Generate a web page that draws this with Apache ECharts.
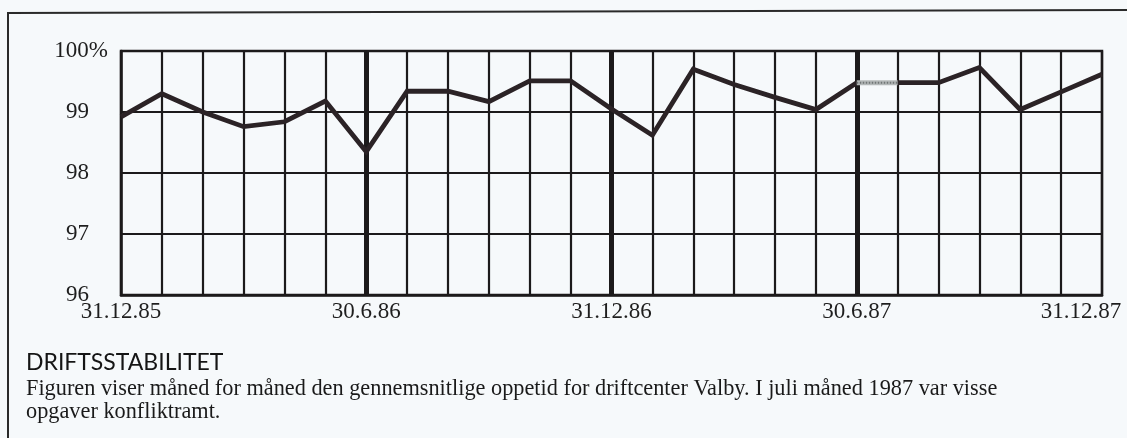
<!DOCTYPE html>
<html>
<head>
<meta charset="utf-8">
<script src="https://cdn.jsdelivr.net/npm/echarts@6/dist/echarts.min.js"></script>
<style>
html,body{margin:0;padding:0;background:#f6f9fb;}
#chart{width:1127px;height:438px;}
</style>
</head>
<body>
<div id="chart"></div>
<script>
// Month-end dates (category axis)
const months = ['31.12.85','31.1.86','28.2.86','31.3.86','30.4.86','31.5.86','30.6.86',
  '31.7.86','31.8.86','30.9.86','31.10.86','30.11.86','31.12.86',
  '31.1.87','28.2.87','31.3.87','30.4.87','31.5.87','30.6.87',
  '31.7.87','31.8.87','30.9.87','31.10.87','30.11.87','31.12.87'];
// Average uptime (%) per month end
const uptime = [98.92, 99.30, 99.00, 98.76, 98.84, 99.18, 98.35,
  99.34, 99.34, 99.17, 99.51, 99.51, 99.05,
  98.62, 99.70, 99.45, 99.24, 99.04, 99.48,
  99.48, 99.48, 99.73, 99.04, 99.33, 99.62];
// Half-year dividers (thick vertical lines)
const halfYears = ['30.6.86','31.12.86','30.6.87'];
// July 1987 (conflict-affected month) ends at this index
const conflictEnd = 19;
const yTicks = [96, 97, 98, 99, 100];
const lastLabel = '31.12.87';

const before = uptime.map((v, i) => i <= conflictEnd - 1 ? v : null);
const conflict = uptime.map((v, i) => (i === conflictEnd - 1 || i === conflictEnd) ? v : null);
const after = uptime.map((v, i) => i >= conflictEnd ? v : null);

const serif = '"Liberation Serif", "DejaVu Serif", serif';
const ink = '#1c1a1b';

const chart = echarts.init(document.getElementById('chart'));
chart.setOption({
  backgroundColor: '#f6f9fb',
  animation: false,
  title: {
    text: 'DRIFTSSTABILITET',
    subtext: 'Figuren viser måned for måned den gennemsnitlige oppetid for driftcenter Valby. I juli måned 1987 var visse\nopgaver konfliktramt.',
    left: 26, top: 351, padding: 0, itemGap: 3,
    textStyle: { fontFamily: 'Lato', fontWeight: 'normal', fontSize: 23, color: '#151515' },
    subtextStyle: { fontFamily: serif, fontSize: 22.3, lineHeight: 23.5, color: '#1a1a1a' }
  },
  graphic: [{
    type: 'polyline',
    shape: { points: [[8, 438], [8, 13], [1127, 10]] },
    style: { stroke: '#2a2a2a', lineWidth: 2, fill: null },
    silent: true
  }],
  grid: {
    left: 121, right: 25, top: 51, bottom: 143,
    outerBoundsMode: 'none',
    containLabel: false,
    show: true, borderColor: ink, borderWidth: 2.5, backgroundColor: 'transparent'
  },
  xAxis: {
    type: 'category',
    data: months,
    boundaryGap: false,
    axisLine: { show: true, lineStyle: { color: ink, width: 2.5 } },
    axisTick: { show: false },
    splitLine: { show: true, interval: 0, lineStyle: { color: ink, width: 2.2 } },
    axisLabel: {
      interval: 5,
      margin: 5,
      color: '#1e1e1e',
      fontFamily: serif,
      fontSize: 23,
      formatter: v => v === lastLabel ? '{t|' + v + '}{s|}' : '{t|' + v + '}',
      rich: {
        t: { fontFamily: serif, fontSize: 23, color: '#1e1e1e' },
        s: { width: 42 }
      }
    }
  },
  yAxis: {
    type: 'value',
    min: yTicks[0], max: yTicks[yTicks.length - 1], interval: 1,
    axisLine: { show: true, lineStyle: { color: ink, width: 2.5 } },
    axisTick: { show: false },
    splitLine: { show: true, lineStyle: { color: ink, width: 2.2 } },
    axisLabel: {
      margin: 13,
      align: 'right',
      formatter: v => v === 100 ? '{n|' + v + '}{p|%}' : '{n|' + v + '}{s|}',
      rich: {
        n: { fontFamily: serif, fontSize: 23, color: '#1e1e1e' },
        p: { fontFamily: serif, fontSize: 23, color: '#1e1e1e' },
        s: { width: 19 }
      }
    }
  },
  series: [
    {
      type: 'line', data: before, symbol: 'none', connectNulls: false,
      lineStyle: { color: '#2b2326', width: 4.8, join: 'miter' },
      z: 5,
      markLine: {
        silent: true, symbol: 'none', label: { show: false },
        lineStyle: { color: ink, width: 5, type: 'solid' },
        data: halfYears.map(d => ({ xAxis: d }))
      }
    },
    {
      type: 'line', data: conflict, symbol: 'none',
      lineStyle: { color: '#b4b9b9', width: 5 }, z: 6
    },
    {
      type: 'line', data: conflict, symbol: 'none',
      lineStyle: { color: '#707676', width: 2, type: [1.5, 1.5] }, z: 7
    },
    {
      type: 'line', data: after, symbol: 'none',
      lineStyle: { color: '#2b2326', width: 4.8, join: 'miter' }, z: 5
    }
  ]
});
</script>
</body>
</html>
